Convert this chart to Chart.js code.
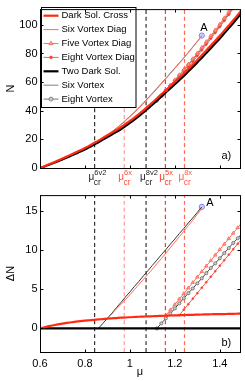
<!DOCTYPE html>
<html>
<head>
<meta charset="utf-8">
<script src="https://cdn.jsdelivr.net/npm/chart.js@4.4.0/dist/chart.umd.min.js"></script>
<style>
  html, body { margin: 0; padding: 0; background: #fff; }
  #wrap { position: relative; width: 245px; height: 381px; }
  canvas { position: absolute; left: 0; }
  #cTop { top: 0; }
  #cBot { top: 186px; }
</style>
</head>
<body>
<div id="wrap">
  <canvas id="cTop" width="245" height="190"></canvas>
  <canvas id="cBot" width="245" height="195"></canvas>
</div>
<script>
// chemical potential grid
const mu = [0.60, 0.62, 0.64, 0.66, 0.68, 0.70, 0.72, 0.74, 0.76, 0.78,
            0.80, 0.82, 0.84, 0.86, 0.88, 0.90, 0.92, 0.94, 0.96, 0.98,
            1.00, 1.02, 1.04, 1.06, 1.08, 1.10, 1.12, 1.14, 1.16, 1.18,
            1.20, 1.22, 1.24, 1.26, 1.28, 1.30, 1.32, 1.34, 1.36, 1.38,
            1.40, 1.42, 1.44, 1.46, 1.48, 1.50];

// N of the two dark soliton state
const nTwoDark = [0, 1.1, 2.3, 3.5, 4.7, 6.0, 7.3, 8.7, 10.1, 11.5,
                  13.0, 14.6, 16.3, 18.0, 19.8, 21.6, 23.4, 25.2, 27.1, 29.3,
                  31.5, 33.8, 36.2, 38.8, 41.5, 44.2, 47.0, 49.9, 52.7, 55.6,
                  58.5, 61.4, 64.3, 67.4, 70.5, 73.7, 77.0, 80.3, 83.7, 87.1,
                  90.5, 94.1, 97.7, 101.3, 105.1, 109.0];

// Delta N relative to two dark solitons
const dnCross = [0, 0.15, 0.29, 0.41, 0.52, 0.62, 0.71, 0.79, 0.87, 0.94,
                 1.00, 1.05, 1.10, 1.15, 1.20, 1.25, 1.29, 1.33, 1.37, 1.40,
                 1.43, 1.46, 1.49, 1.51, 1.54, 1.56, 1.58, 1.61, 1.63, 1.65,
                 1.67, 1.69, 1.71, 1.73, 1.74, 1.76, 1.78, 1.79, 1.81, 1.82,
                 1.83, 1.84, 1.85, 1.87, 1.88, 1.89];

const sixStart = 0.86;
const dnSix = [0, 0.65, 1.3, 1.95, 2.65, 3.3, 4.0, 4.65, 5.35, 6.0, 6.7, 7.35,
               8.05, 8.7, 9.4, 10.05, 10.75, 11.4, 12.1, 12.75, 13.45, 14.1, 14.8, 15.5];

const sixDiagStart = 0.90;
const dnSixDiag = [1.25, 1.85, 2.5, 3.05, 3.65, 4.3, 4.95, 5.6, 6.25, 6.9, 7.55,
                   8.25, 8.9, 9.6, 10.3, 11.0, 11.7, 12.4, 13.1, 13.8, 14.55, 15.3];

const fiveDiagStart = 1.16;
const dnFiveDiag = [1.65, 2.35, 3.05, 3.75, 4.45, 5.15, 5.85, 6.55, 7.25, 7.95,
                    8.65, 9.35, 10.05, 10.75, 11.45, 12.15, 12.85, 13.55];

const eightStart = 1.12;
const dnEight = [0, 0.65, 1.3, 1.9, 2.55, 3.2, 3.85, 4.5, 5.1, 5.75,
                 6.4, 7.05, 7.7, 8.3, 8.95, 9.6, 10.25, 10.9, 11.5, 12.15];

const eightDiagStart = 1.22;
const dnEightDiag = [1.69, 2.4, 3.1, 3.8, 4.5, 5.2, 5.9, 6.6, 7.3, 8.0,
                     8.7, 9.4, 10.1, 10.8, 11.5];

// critical points
const muCrit = [0.843, 0.975, 1.072, 1.158, 1.243];
const critTags = ['6v2', '6x', '8v2', '5x', '8x'];

const xTicks = [0.6, 0.8, 1.0, 1.2, 1.4];
const xTickLabels = ['0.6', '0.8', '1', '1.2', '1.4'];
const nTicks = [0, 20, 40, 60, 80, 100];
const dnTicks = [0, 5, 10, 15];

const legendLabels = ['Dark Sol. Cross', 'Six Vortex Diag', 'Five Vortex Diag',
                      'Eight Vortex Diag', 'Two Dark Sol.', 'Six Vortex', 'Eight Vortex'];

const FONT = '"Liberation Sans", Arial, Helvetica, sans-serif';
const X_MIN = 0.6, X_MAX = 1.49;
const N_MIN = 0, N_MAX = 111;
const DN_MIN = -3, DN_MAX = 17;

const critColors = ['#333333', '#ff9a9a', '#333333', '#ff3a2a', '#ff6a5a'];
const critTextColors = ['#222222', '#ff4a3a', '#222222', '#ff3a2a', '#ff5a4a'];

function branch(start, dn, withBase) {
    const k = mu.findIndex((v) => Math.abs(v - start) < 1e-9);
    return dn.map((d, j) => ({ x: mu[k + j], y: withBase ? nTwoDark[k + j] + d : d }));
}

function makeDatasets(top) {
    const crossData = mu.map((m, i) => ({ x: m, y: top ? nTwoDark[i] + dnCross[i] : dnCross[i] }));
    const twoDarkData = mu.map((m, i) => ({ x: m, y: top ? nTwoDark[i] : 0 }));
    const six = branch(sixStart, dnSix, top);
    const yLo = top ? N_MIN : DN_MIN;
    const yHi = top ? N_MAX : DN_MAX;
    const sets = [
        { data: crossData, borderColor: '#ff2a10', borderWidth: 2.2, pointRadius: 0 },
        { data: branch(sixDiagStart, dnSixDiag, top), borderColor: '#ff6a5a', borderWidth: 1, pointRadius: 0 },
        { data: branch(fiveDiagStart, dnFiveDiag, top), borderColor: '#ff7060', borderWidth: 1,
          pointStyle: 'triangle', pointRadius: 2.0, pointBackgroundColor: '#ffa090',
          pointBorderColor: '#ff5a48', pointBorderWidth: 0.7 },
        { data: branch(eightDiagStart, dnEightDiag, top), borderColor: '#ff5a4a', borderWidth: 1,
          pointStyle: 'circle', pointRadius: 1.0, pointBackgroundColor: '#ff3a2a',
          pointBorderColor: '#ff3a2a', pointBorderWidth: 0.5 },
        { data: twoDarkData, borderColor: '#000000', borderWidth: 2.2, pointRadius: 0 },
        { data: six, borderColor: top ? '#808080' : '#333333', borderWidth: 1, pointRadius: 0 },
        { data: branch(eightStart, dnEight, top), borderColor: top ? '#777777' : '#444444', borderWidth: 1,
          pointStyle: 'circle', pointRadius: 1.6, pointBackgroundColor: '#cccccc',
          pointBorderColor: '#606060', pointBorderWidth: 0.7 },
        { data: [six[six.length - 1]], showLine: false, pointStyle: 'circle', pointRadius: 2.6,
          pointBackgroundColor: 'rgba(170,170,255,0.5)', pointBorderColor: '#7c7cff', pointBorderWidth: 1 },
    ];
    muCrit.forEach((m, i) => {
        sets.push({ data: [{ x: m, y: yLo }, { x: m, y: yHi }], borderColor: critColors[i],
                    borderWidth: 1.2, borderDash: [4, 3], pointRadius: 0, order: 10 });
    });
    sets.forEach((s) => { s.clip = 0; s.cubicInterpolationMode = 'monotone'; });
    return sets;
}

function drawFrame(chart) {
    const { ctx, chartArea: a, scales: { x, y } } = chart;
    ctx.save();
    ctx.strokeStyle = '#000';
    ctx.lineWidth = 1;
    ctx.strokeRect(a.left + 0.5, a.top + 0.5, a.right - a.left, a.bottom - a.top);
    ctx.beginPath();
    x.ticks.forEach((t) => {
        const px = Math.round(x.getPixelForValue(t.value)) + 0.5;
        ctx.moveTo(px, a.bottom + 0.5); ctx.lineTo(px, a.bottom - 2.5);
        ctx.moveTo(px, a.top + 0.5); ctx.lineTo(px, a.top + 3.5);
    });
    y.ticks.forEach((t) => {
        const py = Math.round(y.getPixelForValue(t.value)) + 0.5;
        ctx.moveTo(a.left + 0.5, py); ctx.lineTo(a.left + 3.5, py);
        ctx.moveTo(a.right + 0.5, py); ctx.lineTo(a.right - 2.5, py);
    });
    ctx.stroke();
    ctx.restore();
}

function drawTag(chart, text, dx, dy) {
    const { ctx, scales: { x, y } } = chart;
    const six = chart.data.datasets[5].data;
    const p = six[six.length - 1];
    ctx.save();
    ctx.font = '11px ' + FONT;
    ctx.fillStyle = '#000';
    ctx.textAlign = 'center';
    ctx.textBaseline = 'middle';
    ctx.fillText(text, x.getPixelForValue(p.x) + dx, y.getPixelForValue(p.y) + dy);
    ctx.restore();
}

function drawPanelLetter(chart, text, py) {
    const { ctx, chartArea: a } = chart;
    ctx.save();
    ctx.font = '11px ' + FONT;
    ctx.fillStyle = '#000';
    ctx.textBaseline = 'middle';
    ctx.fillText(text, a.right - 18.5, py);
    ctx.restore();
}

const legendPlugin = {
    id: 'boxLegend',
    afterDatasetsDraw(chart) {
        const ctx = chart.ctx;
        ctx.save();
        ctx.fillStyle = '#fff';
        ctx.strokeStyle = '#000';
        ctx.lineWidth = 1;
        ctx.fillRect(41.5, 7.5, 94.5, 100);
        ctx.strokeRect(41.5, 7.5, 94.5, 100);
        ctx.font = '9.5px ' + FONT;
        ctx.textBaseline = 'middle';
        legendLabels.forEach((label, i) => {
            const ds = chart.data.datasets[i];
            const ly = 15.7 + i * 13.9;
            ctx.strokeStyle = ds.borderColor;
            ctx.lineWidth = ds.borderWidth;
            ctx.beginPath();
            ctx.moveTo(43.5, ly);
            ctx.lineTo(58.5, ly);
            ctx.stroke();
            if (ds.pointRadius > 0) {
                ctx.fillStyle = ds.pointBackgroundColor;
                ctx.strokeStyle = ds.pointBorderColor;
                ctx.lineWidth = ds.pointBorderWidth;
                Chart.helpers.drawPoint(ctx, { pointStyle: ds.pointStyle, radius: ds.pointRadius + 0.4,
                                               rotation: 0, borderWidth: ds.pointBorderWidth }, 51, ly);
            }
            ctx.fillStyle = '#000';
            ctx.fillText(label, 61.5, ly);
        });
        ctx.restore();
    },
};

const topDeco = {
    id: 'topDeco',
    afterDraw(chart) {
        drawFrame(chart);
        const { ctx, scales: { x } } = chart;
        ctx.save();
        muCrit.forEach((m, i) => {
            const px = x.getPixelForValue(m);
            ctx.fillStyle = critTextColors[i];
            ctx.textBaseline = 'alphabetic';
            ctx.font = '10px ' + FONT;
            ctx.textAlign = 'right';
            ctx.fillText('\u03bc', px - 0.3, 179.5);
            ctx.textAlign = 'left';
            ctx.font = '7.5px ' + FONT;
            ctx.fillText(critTags[i], px - 0.3, 174.5);
            ctx.font = '8.5px ' + FONT;
            ctx.fillText('cr', px - 0.8, 184.5);
        });
        ctx.restore();
        drawPanelLetter(chart, 'a)', 156);
        drawTag(chart, 'A', 2, -8);
    },
};

const botDeco = {
    id: 'botDeco',
    afterDraw(chart) {
        drawFrame(chart);
        drawPanelLetter(chart, 'b)', 157);
        drawTag(chart, 'A', 8, -4);
    },
};

function axisOpts(kind, top) {
    const font = { family: FONT, size: 11 };
    if (kind === 'x') {
        return {
            type: 'linear', min: X_MIN, max: X_MAX,
            grid: { display: false, drawTicks: false }, border: { display: false },
            afterBuildTicks: (s) => { s.ticks = xTicks.map((v) => ({ value: v })); },
            ticks: { display: !top, font, color: '#000', padding: 5, maxRotation: 0,
                     callback: (v, i) => xTickLabels[i] },
            title: { display: !top, text: '\u03bc', font, color: '#000', padding: { top: 0, bottom: 2.5 } },
            afterFit: (s) => { s.height = top ? 22 : 29; },
        };
    }
    const ticksArr = top ? nTicks : dnTicks;
    return {
        type: 'linear', min: top ? N_MIN : DN_MIN, max: top ? N_MAX : DN_MAX,
        grid: { display: false, drawTicks: false }, border: { display: false },
        afterBuildTicks: (s) => { s.ticks = ticksArr.map((v) => ({ value: v })); },
        ticks: { font, color: '#000', padding: 2.5 },
        title: { display: true, text: top ? 'N' : '\u0394N', font, color: '#000', padding: { top: 4, bottom: 0 } },
        afterFit: (s) => { s.width = 40; },
    };
}

function makeChart(id, top) {
    return new Chart(document.getElementById(id), {
        type: 'line',
        data: { datasets: makeDatasets(top) },
        options: {
            responsive: false,
            animation: false,
            events: [],
            layout: { padding: { top: 5, right: 4, left: 0, bottom: 0 } },
            plugins: { legend: { display: false }, tooltip: { enabled: false } },
            scales: { x: axisOpts('x', top), y: axisOpts('y', top) },
        },
        plugins: top ? [legendPlugin, topDeco] : [botDeco],
    });
}

makeChart('cTop', true);
makeChart('cBot', false);
</script>
</body>
</html>
